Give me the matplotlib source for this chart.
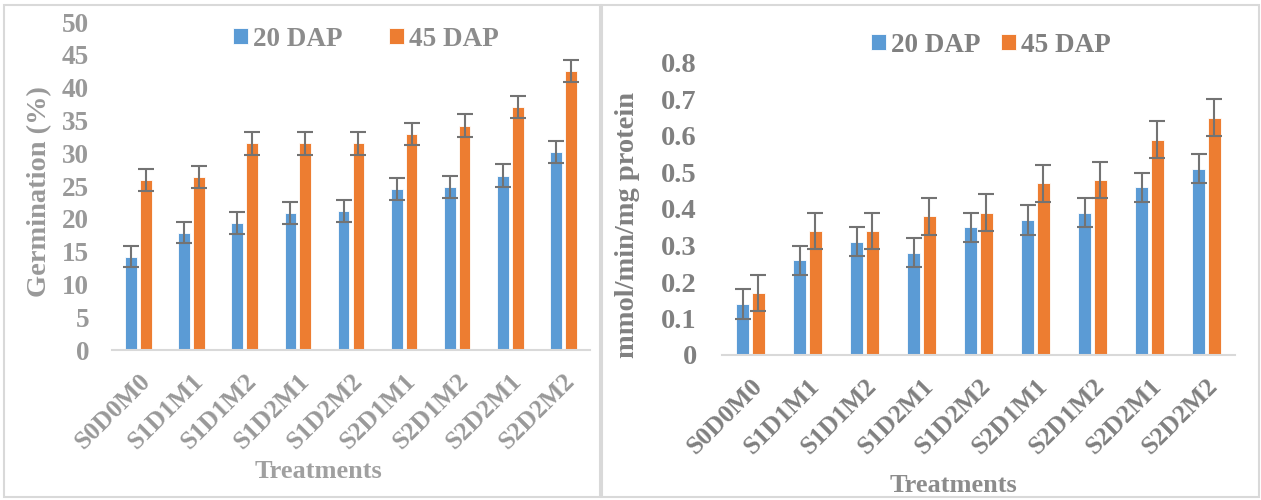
import numpy as np
import matplotlib
matplotlib.use("Agg")
import matplotlib.pyplot as plt
import matplotlib.transforms as mtransforms
from matplotlib.patches import Rectangle

treatments = ['S0D0M0', 'S1D1M1', 'S1D1M2', 'S1D2M1', 'S1D2M2',
              'S2D1M1', 'S2D1M2', 'S2D2M1', 'S2D2M2']

germ_20 = [14.2, 17.9, 19.4, 20.9, 21.2, 24.5, 24.9, 26.6, 30.2]
germ_45 = [25.9, 26.4, 31.5, 31.5, 31.5, 32.9, 34.2, 37.0, 42.5]
germ_err_20 = [1.6, 1.6, 1.7, 1.7, 1.7, 1.7, 1.7, 1.7, 1.7]
germ_err_45 = [1.7, 1.7, 1.7, 1.7, 1.7, 1.7, 1.7, 1.7, 1.7]

enz_20 = [0.14, 0.26, 0.31, 0.28, 0.35, 0.37, 0.39, 0.46, 0.51]
enz_45 = [0.17, 0.34, 0.34, 0.38, 0.39, 0.47, 0.48, 0.59, 0.65]
enz_err_20 = [0.04, 0.04, 0.04, 0.04, 0.04, 0.04, 0.04, 0.04, 0.04]
enz_err_45 = [0.05, 0.05, 0.05, 0.05, 0.05, 0.05, 0.05, 0.05, 0.05]

plt.rcParams['font.family'] = ['Liberation Serif', 'DejaVu Serif']
plt.rcParams['font.weight'] = 'bold'

W, H = 1261, 500
blue = '#5B9BD5'
orange = '#ED7D31'
err_col = '#737373'
grid_col = '#d9d9d9'

fig = plt.figure(figsize=(W / 100, H / 100), dpi=100)


def px_axes(x0, y0, x1, y1):
    return fig.add_axes([x0 / W, 1 - y1 / H, (x1 - x0) / W, (y1 - y0) / H])


def draw_panel(ax, v20, v45, e20, e45, ymax, step, fmt, lab_col, tick_size, ypad):
    x = np.arange(len(treatments))
    w = 0.22
    ax.bar(x - 0.14, v20, w, color=blue, edgecolor='white', linewidth=0.6, zorder=2)
    ax.bar(x + 0.14, v45, w, color=orange, edgecolor='white', linewidth=0.6, zorder=2)
    ax.errorbar(x - 0.14, v20, yerr=e20, fmt='none', ecolor=err_col,
                elinewidth=1.5, capsize=6, capthick=1.5, zorder=3)
    ax.errorbar(x + 0.14, v45, yerr=e45, fmt='none', ecolor=err_col,
                elinewidth=1.5, capsize=6, capthick=1.5, zorder=3)
    ax.set_xlim(-0.5, len(treatments) - 0.5)
    ax.set_ylim(0, ymax)
    ticks = np.arange(0, ymax + step / 2, step)
    ax.set_yticks(ticks)
    ax.set_yticklabels([fmt(v) for v in ticks])
    ax.set_xticks(x)
    ax.set_xticklabels(treatments, rotation=45, ha='right', rotation_mode='anchor')
    shift = mtransforms.ScaledTranslation(6 / 100, 0, fig.dpi_scale_trans)
    for lab in ax.get_xticklabels():
        lab.set_transform(lab.get_transform() + shift)
    ax.tick_params(length=0)
    ax.tick_params(axis='y', pad=ypad, labelsize=tick_size, labelcolor=lab_col)
    ax.tick_params(axis='x', pad=14, labelsize=18.5, labelcolor=lab_col)
    for s in ['top', 'right', 'left']:
        ax.spines[s].set_visible(False)
    ax.spines['bottom'].set_color(grid_col)
    ax.spines['bottom'].set_linewidth(1.5)
    ax.set_facecolor('none')


ax1 = px_axes(112, 22, 590, 350)
draw_panel(ax1, germ_20, germ_45, germ_err_20, germ_err_45, 50, 5,
           lambda v: f'{v:.0f}', '#999999', 19.5, 16.5)
ax2 = px_axes(722, 63, 1235, 355)
draw_panel(ax2, enz_20, enz_45, enz_err_20, enz_err_45, 0.8, 0.1,
           lambda v: '0' if v == 0 else f'{v:.1f}', '#808080', 20.5, 18)

fig.text(40 / W, 1 - 192 / H, 'Germination (%)', rotation=90, ha='center',
         va='center', fontsize=20.5, fontweight='bold', color='#999999')
fig.text(628 / W, 1 - 225 / H, 'mmol/min/mg protein', rotation=90, ha='center',
         va='center', fontsize=20.5, fontweight='bold', color='#808080')
fig.text(318 / W, 1 - 472 / H, 'Treatments', ha='center', va='center',
         fontsize=19, fontweight='bold', color='#a0a0a0')
fig.text(953 / W, 1 - 485 / H, 'Treatments', ha='center', va='center',
         fontsize=19, fontweight='bold', color='#8c8c8c')

for ax, cx, cy, col, cs in [(ax1, 366, 39, '#8c8c8c', 1.7),
                            (ax2, 991, 45, '#808080', 0.75)]:
    leg = ax.legend(['20 DAP', '45 DAP'], loc='center', ncol=2,
                    bbox_to_anchor=(cx / W, 1 - cy / H), bbox_transform=fig.transFigure,
                    frameon=False, handlelength=0.55, handleheight=0.55,
                    handletextpad=0.2, columnspacing=cs,
                    prop={'size': 19.5, 'weight': 'bold'})
    for t in leg.get_texts():
        t.set_color(col)

# chart borders
for x0, x1 in [(4, 600), (602, 1259)]:
    fig.add_artist(Rectangle((x0 / W, 3 / H), (x1 - x0) / W, (H - 8) / H,
                             transform=fig.transFigure, fill=False,
                             edgecolor='#d9d9d9', linewidth=1.5))

fig.savefig('out.png', dpi=100)
